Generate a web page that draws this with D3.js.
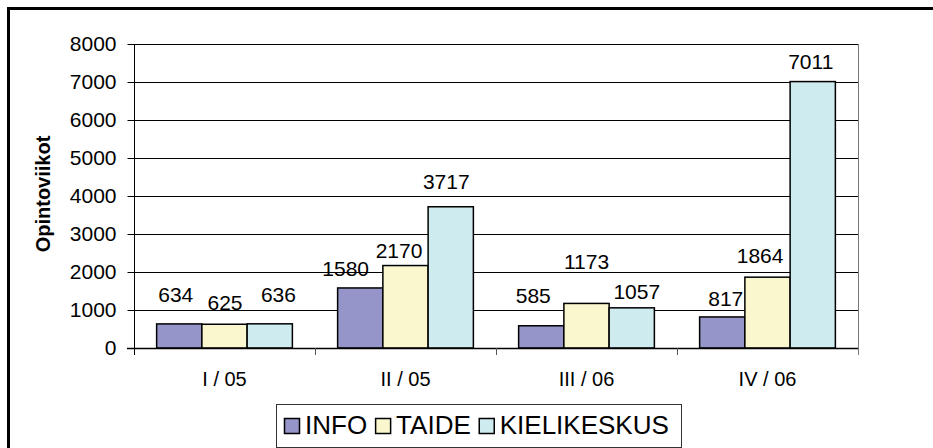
<!DOCTYPE html>
<html>
<head>
<meta charset="utf-8">
<script src="https://cdn.jsdelivr.net/npm/d3@7"></script>
<style>
  html, body { margin: 0; padding: 0; background: #fff; }
  svg { display: block; font-family: "Liberation Sans", Arial, sans-serif; }
</style>
</head>
<body>
<svg id="chart" width="933" height="448"></svg>
<script>
// ---- data ----
const categories = ["I / 05", "II / 05", "III / 06", "IV / 06"];
const seriesNames = ["INFO", "TAIDE", "KIELIKESKUS"];
const infoValues = [634, 1580, 585, 817];
const taideValues = [625, 2170, 1173, 1864];
const kielikeskusValues = [636, 3717, 1057, 7011];
const yTicks = [0, 1000, 2000, 3000, 4000, 5000, 6000, 7000, 8000];
const yTitle = "Opintoviikot";

// ---- layout / style (not data) ----
const seriesColors = ["#9595C9", "#FAF7CF", "#CEEBEF"];
// manual data-label placement, as in the original: [dx, gap above bar]
const labelShift = [
  [[-3.5, 22], [-14.6, 12], [-8, 22.5], [3.5, 11]],
  [[0.5, 14], [-6.5, 7.5], [0, 34.4], [-7.4, 14.2]],
  [[8.7, 22], [-4.5, 17.5], [5, 8.8], [-2, 12.3]]
];

const seriesValues = [infoValues, taideValues, kielikeskusValues];
const svg = d3.select("#chart");

const plot = { left: 134, right: 858, top: 44, bottom: 348 };

// outer frame (cut off at the right and bottom in the original)
svg.append("rect")
  .attr("x", 8.5).attr("y", 8.5)
  .attr("width", 960).attr("height", 480)
  .attr("fill", "none").attr("stroke", "#000").attr("stroke-width", 3);

const x0 = d3.scaleBand().domain(categories).range([plot.left, plot.right]).padding(0);
const bw = x0.bandwidth();
const x1 = d3.scaleBand().domain(seriesNames).range([bw * 0.125, bw * 0.875]).padding(0);
const y = d3.scaleLinear().domain([0, 8000]).range([plot.bottom, plot.top]);

// gridlines
svg.append("g").selectAll("line").data(yTicks.filter(d => d > 0)).join("line")
  .attr("x1", plot.left).attr("x2", plot.right)
  .attr("y1", d => Math.round(y(d)) + 0.5).attr("y2", d => Math.round(y(d)) + 0.5)
  .attr("stroke", "#000").attr("stroke-width", 1);

// right plot edge
svg.append("line")
  .attr("x1", plot.right + 0.5).attr("x2", plot.right + 0.5)
  .attr("y1", plot.top).attr("y2", plot.bottom + 7)
  .attr("stroke", "#777").attr("stroke-width", 1);

// bars
const groups = svg.append("g").selectAll("g").data(categories).join("g")
  .attr("transform", d => `translate(${x0(d)},0)`);

groups.selectAll("rect")
  .data((c, ci) => seriesNames.map((s, si) => ({ s, si, ci, v: seriesValues[si][ci] })))
  .join("rect")
  .attr("x", d => x1(d.s))
  .attr("y", d => y(d.v))
  .attr("width", x1.bandwidth())
  .attr("height", d => y(0) - y(d.v))
  .attr("fill", d => seriesColors[d.si])
  .attr("stroke", "#000").attr("stroke-width", 1.5);

// data labels
groups.selectAll("text.val")
  .data((c, ci) => seriesNames.map((s, si) => ({ s, si, ci, v: seriesValues[si][ci] })))
  .join("text").attr("class", "val")
  .attr("x", d => x1(d.s) + x1.bandwidth() / 2 + labelShift[d.si][d.ci][0])
  .attr("y", d => y(d.v) - labelShift[d.si][d.ci][1])
  .attr("text-anchor", "middle")
  .attr("font-size", 21)
  .attr("fill", "#000")
  .text(d => d.v);

// y axis
const yAxis = svg.append("g").attr("transform", `translate(${plot.left + 0.5},0)`)
  .call(d3.axisLeft(y).tickValues(yTicks).tickSize(7).tickPadding(11).tickFormat(d3.format("d")));
yAxis.select(".domain").remove();
yAxis.selectAll(".tick line").attr("stroke", "#000");
yAxis.selectAll("text").attr("font-size", 21).attr("font-family", "Liberation Sans, Arial, sans-serif").attr("fill", "#000");
svg.append("line")
  .attr("x1", plot.left + 0.5).attr("x2", plot.left + 0.5)
  .attr("y1", plot.top).attr("y2", plot.bottom + 7)
  .attr("stroke", "#000");

// x axis
svg.append("line")
  .attr("x1", plot.left - 7).attr("x2", plot.right)
  .attr("y1", plot.bottom + 0.5).attr("y2", plot.bottom + 0.5)
  .attr("stroke", "#000").attr("stroke-width", 1.5);
svg.append("g").selectAll("line").data(categories.slice(1)).join("line")
  .attr("x1", d => x0(d) + 0.5).attr("x2", d => x0(d) + 0.5)
  .attr("y1", plot.bottom).attr("y2", plot.bottom + 7)
  .attr("stroke", "#555");
const xAxis = svg.append("g").attr("transform", `translate(0,${plot.bottom})`)
  .call(d3.axisBottom(x0).tickSize(0).tickPadding(24));
xAxis.select(".domain").remove();
xAxis.selectAll("text").attr("font-size", 20).attr("font-family", "Liberation Sans, Arial, sans-serif").attr("fill", "#000");

// y title
svg.append("text")
  .attr("transform", `translate(50,194) rotate(-90)`)
  .attr("text-anchor", "middle")
  .attr("font-size", 20).attr("font-weight", "bold")
  .text(yTitle);

// legend
const legend = svg.append("g");
legend.append("rect")
  .attr("x", 276.5).attr("y", 404.5).attr("width", 405).attr("height", 43)
  .attr("fill", "#fff").attr("stroke", "#333").attr("stroke-width", 1);
let lx = 284;
seriesNames.forEach((name, i) => {
  const item = legend.append("g").attr("transform", `translate(${lx},0)`);
  item.append("rect").attr("x", 0.5).attr("y", 418.5).attr("width", 15).attr("height", 15)
    .attr("fill", seriesColors[i]).attr("stroke", "#000").attr("stroke-width", 1.5);
  const t = item.append("text").attr("x", 21).attr("y", 434)
    .attr("font-size", 26).attr("fill", "#000").text(name);
  lx += 21 + t.node().getComputedTextLength() + 8;
});
</script>
</body>
</html>
